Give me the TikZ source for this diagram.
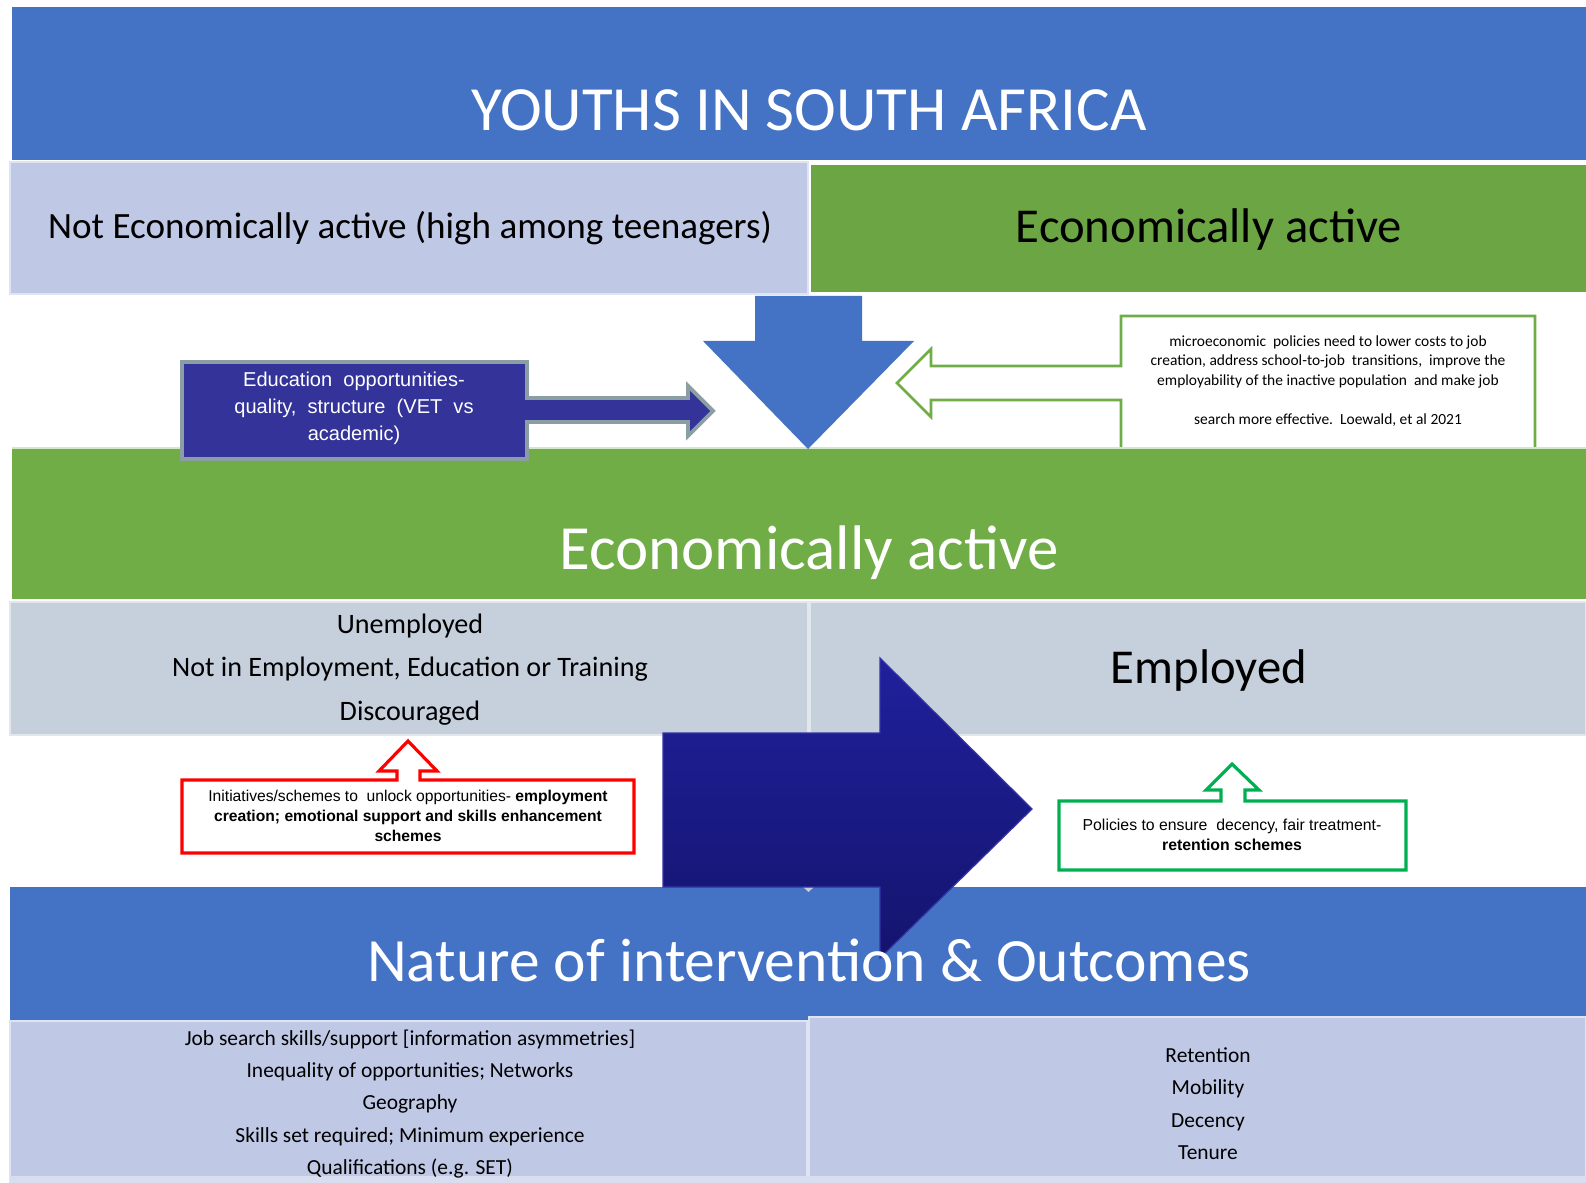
\documentclass[tikz,border=0pt]{standalone}
\usepackage{fontspec}
\setmainfont{Carlito}
\newfontfamily\arialfont{Liberation Sans}

\definecolor{bandblue}{HTML}{4472C4}
\definecolor{bandgreen}{HTML}{70AD47}
\definecolor{paleblue}{HTML}{BFC8E5}
\definecolor{palegrey}{HTML}{C6CFDC}
\definecolor{edunavy}{HTML}{333399}
\definecolor{edurim}{HTML}{8A9EA4}
\definecolor{arrowtop}{HTML}{20209C}
\definecolor{arrowbot}{HTML}{14146E}
\definecolor{arrowrim}{HTML}{3434A8}
\definecolor{calloutred}{HTML}{FF0000}
\definecolor{calloutgreen}{HTML}{00B050}

\begin{document}
\begin{tikzpicture}[x=0.01cm,y=-0.01cm,inner sep=0pt,
  banner/.style={text=white,anchor=base,font=\fontsize{17.9}{21}\selectfont},
  rowtext/.style={anchor=base,font=\fontsize{13.85}{16}\selectfont},
  listtext/.style={align=center,font=\fontsize{6.1}{9.2}\selectfont},
  tile/.style={draw=white!50!#1,fill=#1,line width=0.5pt},
  callout/.style={draw=#1,fill=white,line width=0.9pt,line join=miter}]
\useasboundingbox[fill=white] (0,0) rectangle (1586,1183);

\fill[bandblue] (12,7) rectangle (1586,160);
\node[banner] (title) at (809,130.5) {YOUTHS IN SOUTH AFRICA};

\filldraw[tile=paleblue] (10,162) rectangle (808,294);
\fill[bandgreen!96!black] (811,165) rectangle (1586,292);
\node[anchor=base,font=\fontsize{10.55}{12}\selectfont] (inactive) at (410,239) {Not Economically active (high among teenagers)};
\node[rowtext] (active) at (1209,243) {Economically active};

\filldraw[callout=bandgreen,line width=0.75pt] (1121,316) -- (1535,316) -- (1535,452) -- (1121,452) -- (1121,400)
  -- (931,400) -- (931,417) -- (897,383) -- (931,349) -- (931,366) -- (1121,366) -- cycle;
\node[align=center,font=\fontsize{4.4}{5.55}\selectfont] (policy) at (1328,381)
  {microeconomic\ \ policies need to lower costs to job\\creation,\ address school-to-job\ \ transitions,\ \ improve the\\employability\ of the inactive population\ \ and make job\\[5.55pt]search more effective.\ \ Loewald, et al 2021};

\fill[bandgreen] (12,448) rectangle (1586,599);
\draw[white!70!bandgreen,line width=0.4pt] (12,448) -- (1586,448);
\node[banner] (middle) at (809,569.5) {Economically active};

\fill[bandblue] (755,296) -- (862,296) -- (862,341) -- (914,341) -- (808,449) -- (703,341) -- (755,341) -- cycle;

\filldraw[draw=edurim,fill=edunavy,line width=1.1pt] (182,362) -- (527,362) -- (527,398) -- (688,398) -- (688,386)
  -- (713,411) -- (688,436) -- (688,422) -- (527,422) -- (527,459) -- (182,459) -- cycle;
\node[text=white,align=center,font=\arialfont\fontsize{5.7}{7.7}\selectfont] (education) at (354,408)
  {Education\ \ opportunities-\\quality,\ \ structure\ \ (VET\ \ vs\\academic)};

\filldraw[tile=palegrey] (10,602) rectangle (808,735);
\filldraw[tile=palegrey] (810,602) rectangle (1586,735);
\node[align=center,font=\fontsize{8}{12.4}\selectfont] (jobless) at (410,669.5)
  {Unemployed\\Not in Employment, Education or Training\\Discouraged};
\node[rowtext] (employed) at (1209,683) {Employed};

\filldraw[callout=calloutred] (182,780) -- (397,780) -- (397,771) -- (379,771) -- (408,741) -- (437,771) -- (420,771)
  -- (420,780) -- (634,780) -- (634,853) -- (182,853) -- cycle;
\node[align=center,font=\arialfont\fontsize{4.45}{5.7}\selectfont] (schemes) at (408,816)
  {Initiatives/schemes to\ \ unlock opportunities- \textbf{employment}\\\textbf{creation; emotional support and skills enhancement}\\\textbf{schemes}};

\filldraw[callout=calloutgreen] (1059,801) -- (1221,801) -- (1221,790) -- (1206,790) -- (1232,764) -- (1259,790) -- (1245,790)
  -- (1245,801) -- (1406,801) -- (1406,870) -- (1059,870) -- cycle;
\node[align=center,font=\arialfont\fontsize{4.5}{5.7}\selectfont] (decency) at (1232,835)
  {Policies to ensure\ \ decency,\ fair treatment-\\\textbf{retention schemes}};

\fill[bandblue] (10,887) rectangle (1586,1020);
\filldraw[tile=paleblue] (10,1021) rectangle (807,1183);
\filldraw[tile=paleblue] (809,1017) rectangle (1586,1177);
\fill[paleblue!60!white] (10,1176) rectangle (1586,1183);
\fill[gray!40] (802,886) -- (815,886) -- (808.5,892) -- cycle;

\shade[top color=arrowtop,bottom color=arrowbot,draw=arrowrim,line width=0.35pt] (663,733) -- (880,733) -- (880,658)
  -- (1032,809) -- (880,958) -- (880,887) -- (663,887) -- cycle;
\node[banner,font=\fontsize{17.5}{21}\selectfont] (outcomes) at (809,981) {Nature of intervention \& Outcomes};

\node[listtext] (barriers) at (410,1104)
  {Job search skills/support [information asymmetries]\\Inequality of opportunities; Networks\\Geography\\Skills set required; Minimum experience\\Qualifications (e.g. SET)};
\node[listtext] (results) at (1208,1103.5) {Retention\\Mobility\\Decency\\Tenure};
\end{tikzpicture}
\end{document}
